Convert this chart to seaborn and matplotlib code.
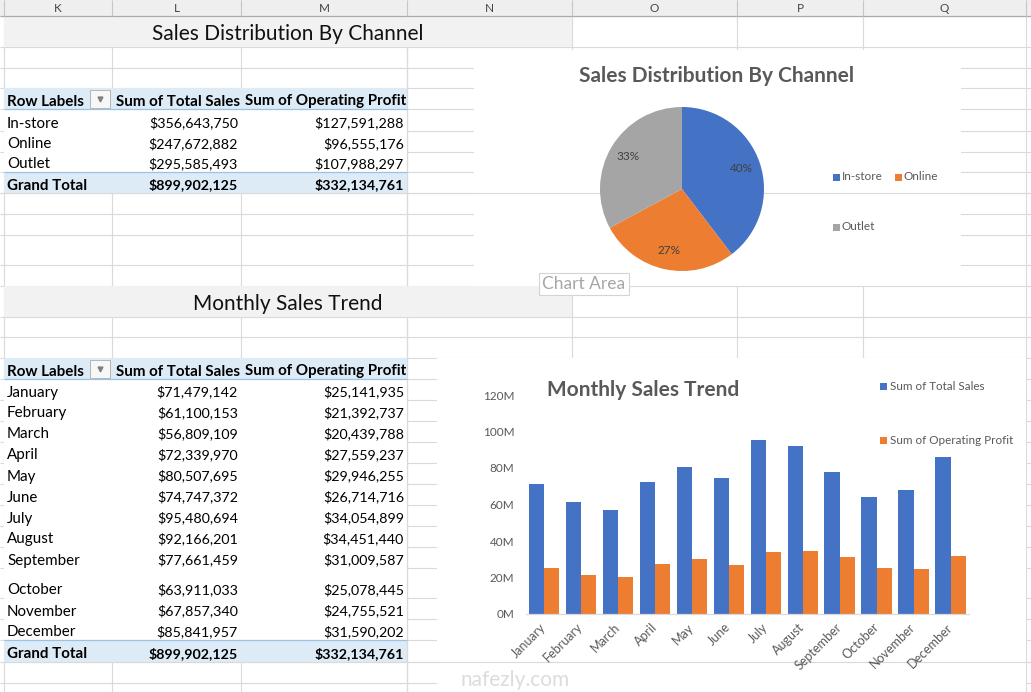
import numpy as np
import pandas as pd
import matplotlib
matplotlib.use("Agg")
import matplotlib.pyplot as plt
import seaborn as sns
from matplotlib.patches import Rectangle

# ---------------- data ----------------
channels = ["In-store", "Online", "Outlet"]
channel_sales = [356643750, 247672882, 295585493]
channel_profit = [127591288, 96555176, 107988297]
channel_grand_total = [899902125, 332134761]

months = ["January", "February", "March", "April", "May", "June", "July",
          "August", "September", "October", "November", "December"]
month_sales = [71479142, 61100153, 56809109, 72339970, 80507695, 74747372,
               95480694, 92166201, 77661459, 63911033, 67857340, 85841957]
month_profit = [25141935, 21392737, 20439788, 27559237, 29946255, 26714716,
                34054899, 34451440, 31009587, 25078445, 24755521, 31590202]
month_grand_total = [899902125, 332134761]

series_names = ["Sum of Total Sales", "Sum of Operating Profit"]
column_letters = ["K", "L", "M", "N", "O", "P", "Q"]
y_ticks = [0, 20e6, 40e6, 60e6, 80e6, 100e6, 120e6]

# ---------------- style ----------------
BLUE, ORANGE, GRAY = "#4472C4", "#ED7D31", "#A5A5A5"
GRID = "#DADADA"
TXT = "#595959"
PIVOT = "#DDEBF7"
PIVOT_LINE = "#9BC2E6"
TFS = 10.9   # table label font size
NFS = 10.3   # table number font size

sns.set_theme(style="white")
plt.rcParams['font.family'] = ['Lato', 'DejaVu Sans']

W, H = 1031, 692
fig = plt.figure(figsize=(W / 100, H / 100), dpi=100)
fig.patch.set_facecolor("white")
bg = fig.add_axes([0, 0, 1, 1])
bg.set_xlim(0, W)
bg.set_ylim(H, 0)
bg.axis("off")

col_x = [4, 112, 241, 407, 572, 737, 863, 1026]
row_y = [16, 47, 68, 88, 109, 131, 152, 172, 193, 214, 235, 265, 286, 317,
         337, 358, 379, 400, 421, 442, 463, 484, 505, 526, 547, 568, 598,
         619, 640, 662, 683]

# sheet gridlines
bg.hlines(row_y, 0, W, color=GRID, lw=0.8, zorder=1)
bg.vlines(col_x, 16, H, color=GRID, lw=0.8, zorder=1)

# column header strip
bg.add_patch(Rectangle((0, 0), W, 16, fc="#EFEFEF", ec="none", zorder=2))
bg.hlines([16], 0, W, color="#ABABAB", lw=0.9, zorder=3)
bg.vlines(col_x, 0, 16, color="#C6C6C6", lw=0.8, zorder=3)
for i, letter in enumerate(column_letters):
    cx = (col_x[i] + col_x[i + 1]) / 2
    bg.text(cx, 8.5, letter, ha="center", va="center", fontsize=8.5,
            color="#444444", zorder=4)

# section title bands
for (y0, y1, title) in [(17, 47, "Sales Distribution By Channel"),
                        (286, 317, "Monthly Sales Trend")]:
    bg.add_patch(Rectangle((4, y0), 568, y1 - y0, fc="#F2F2F2", ec="none", zorder=2.5))
    bg.text(288, y1 - 7.5, title, ha="center", va="baseline", fontsize=15,
            color="#111111", zorder=4)

# chart areas (white, cover the sheet grid)
bg.add_patch(Rectangle((474, 50), 487, 236, fc="white", ec="none", zorder=2))
bg.add_patch(Rectangle((437, 358), 589, 334, fc="white", ec="none", zorder=2))


def money(v):
    return f"${v:,.0f}"


def draw_pivot(rows_y, labels, sales, profit, totals):
    top, bottom = rows_y[0], rows_y[-1]
    bg.add_patch(Rectangle((4, top), 403, bottom - top, fc="white", ec="none", zorder=2))
    bg.add_patch(Rectangle((4, rows_y[0]), 403, rows_y[1] - rows_y[0], fc=PIVOT, ec="none", zorder=2.2))
    bg.add_patch(Rectangle((4, rows_y[-2]), 403, rows_y[-1] - rows_y[-2], fc=PIVOT, ec="none", zorder=2.2))
    bg.hlines([rows_y[1], rows_y[-2]], 4, 407, color=PIVOT_LINE, lw=0.9, zorder=3)
    bg.hlines([bottom], 0, W, color=GRID, lw=0.8, zorder=2.3)
    bg.vlines([407], 16, H, color=GRID, lw=0.8, zorder=2.3)
    off = 3.5
    # header
    hb = rows_y[1]
    bg.text(7, hb - off, "Row Labels", ha="left", va="baseline", fontsize=TFS,
            fontweight="bold", color="black", zorder=4)
    bg.text(240, hb - off, series_names[0], ha="right", va="baseline", fontsize=TFS,
            fontweight="bold", color="black", zorder=4)
    bg.text(406, hb - off, series_names[1], ha="right", va="baseline", fontsize=TFS,
            fontweight="bold", color="black", zorder=4)
    bg.add_patch(Rectangle((90, top + 1.5), 20, hb - top - 3, fc="#F7F7F7",
                           ec="#B5B5B5", lw=0.7, zorder=4.5))
    bg.plot([100], [(top + hb) / 2], marker="v", ms=3.5, color="#808080", zorder=5)
    # body
    for i, (lab, s, p) in enumerate(zip(labels, sales, profit)):
        yb = rows_y[i + 2]
        bg.text(7, yb - off, lab, ha="left", va="baseline", fontsize=TFS, color="black", zorder=4)
        bg.text(238, yb - off, money(s), ha="right", va="baseline", fontsize=NFS, color="black", zorder=4)
        bg.text(404, yb - off, money(p), ha="right", va="baseline", fontsize=NFS, color="black", zorder=4)
    yb = rows_y[-1]
    bg.text(7, yb - off, "Grand Total", ha="left", va="baseline", fontsize=TFS,
            fontweight="bold", color="black", zorder=4)
    bg.text(238, yb - off, money(totals[0]), ha="right", va="baseline", fontsize=NFS,
            fontweight="bold", color="black", zorder=4)
    bg.text(404, yb - off, money(totals[1]), ha="right", va="baseline", fontsize=NFS,
            fontweight="bold", color="black", zorder=4)


draw_pivot([88, 109, 131, 152, 172, 193], channels, channel_sales,
           channel_profit, channel_grand_total)
draw_pivot([358, 379, 400, 421, 442, 463, 484, 505, 526, 547, 568, 598, 619,
            640, 662], months, month_sales, month_profit, month_grand_total)

# ---------------- pie chart ----------------
cx, cy, r = 682, 189, 82
pie_ax = fig.add_axes([(cx - r) / W, 1 - (cy + r) / H, 2 * r / W, 2 * r / H])
wedges, texts, autotexts = pie_ax.pie(
    channel_sales, colors=[BLUE, ORANGE, GRAY], startangle=90, counterclock=False,
    autopct=lambda p: "", pctdistance=0.77, radius=1.0,
    wedgeprops=dict(linewidth=0), textprops=dict(color="#404040", fontsize=8.5))
# Excel-style percent labels (rounded so they add up to 100)
shares = np.array(channel_sales, dtype=float) / sum(channel_sales) * 100
floors = np.floor(shares).astype(int)
rest = 100 - floors.sum()
order = np.argsort(-(shares - floors))
for k in order[:rest]:
    floors[k] += 1
for t, v in zip(autotexts, floors):
    t.set_text(f"{v}%")
pie_ax.set_xlim(-1, 1)
pie_ax.set_ylim(-1, 1)
pie_ax.set_aspect("equal")
pie_ax.axis("off")

bg.text(717, 76.5, "Sales Distribution By Channel", ha="center", va="center",
        fontsize=15, fontweight="bold", color=TXT, zorder=4)
for (lx, ly, lab, colr) in [(836, 177, channels[0], BLUE), (898, 177, channels[1], ORANGE),
                            (836, 227, channels[2], GRAY)]:
    bg.add_patch(Rectangle((lx - 3.5, ly - 3.5), 7, 7, fc=colr, ec="none", zorder=4))
    bg.text(lx + 6, ly, lab, ha="left", va="center", fontsize=8.5, color=TXT, zorder=4)

# Chart Area tooltip
bg.text(584, 284, "Chart Area", ha="center", va="center", fontsize=12.5,
        color="#A6A6A6", zorder=6,
        bbox=dict(boxstyle="square,pad=0.2", fc="white", ec="#D4D4D4", lw=0.8))

# ---------------- bar chart ----------------
df = pd.DataFrame({
    "Month": months * 2,
    "Value": month_sales + month_profit,
    "Series": [series_names[0]] * len(months) + [series_names[1]] * len(months),
})
x0, x1, y_top, y_bot = 525.5, 969, 395, 614
bar_ax = fig.add_axes([x0 / W, 1 - y_bot / H, (x1 - x0) / W, (y_bot - y_top) / H])
sns.barplot(data=df, x="Month", y="Value", hue="Series", palette=[BLUE, ORANGE],
            saturation=1, width=0.82, linewidth=0, ax=bar_ax, legend=False, errorbar=None)
bar_ax.set_facecolor("none")
bar_ax.set_xlim(-0.5, len(months) - 0.5)
bar_ax.set_ylim(0, 120e6)
bar_ax.set_yticks(y_ticks)
bar_ax.set_yticklabels([f"{v / 1e6:.0f}M" for v in y_ticks])
bar_ax.set_xlabel("")
bar_ax.set_ylabel("")
for sp in ["top", "right", "left"]:
    bar_ax.spines[sp].set_visible(False)
bar_ax.spines["bottom"].set_color("#D9D9D9")
bar_ax.spines["bottom"].set_linewidth(0.9)
bar_ax.tick_params(axis="y", length=0, pad=8, labelsize=8.5, labelcolor=TXT)
bar_ax.tick_params(axis="x", length=0, pad=8, labelsize=9, labelcolor=TXT)
plt.setp(bar_ax.get_xticklabels(), rotation=45, ha="right", va="center",
         rotation_mode="anchor")
bar_ax.grid(False)

bg.text(643, 390.5, "Monthly Sales Trend", ha="center", va="center", fontsize=15,
        fontweight="bold", color=TXT, zorder=4)
for (ly, lab, colr) in [(386, series_names[0], BLUE), (440, series_names[1], ORANGE)]:
    bg.add_patch(Rectangle((880, ly - 3.5), 7, 7, fc=colr, ec="none", zorder=4))
    bg.text(890, ly, lab, ha="left", va="center", fontsize=8.4, color=TXT, zorder=4)

# watermark
bg.text(515, 680, "nafezly.com", ha="center", va="center", fontsize=15,
        color="#DCDCDC", zorder=5)

fig.savefig("out.png", dpi=100, facecolor="white")
